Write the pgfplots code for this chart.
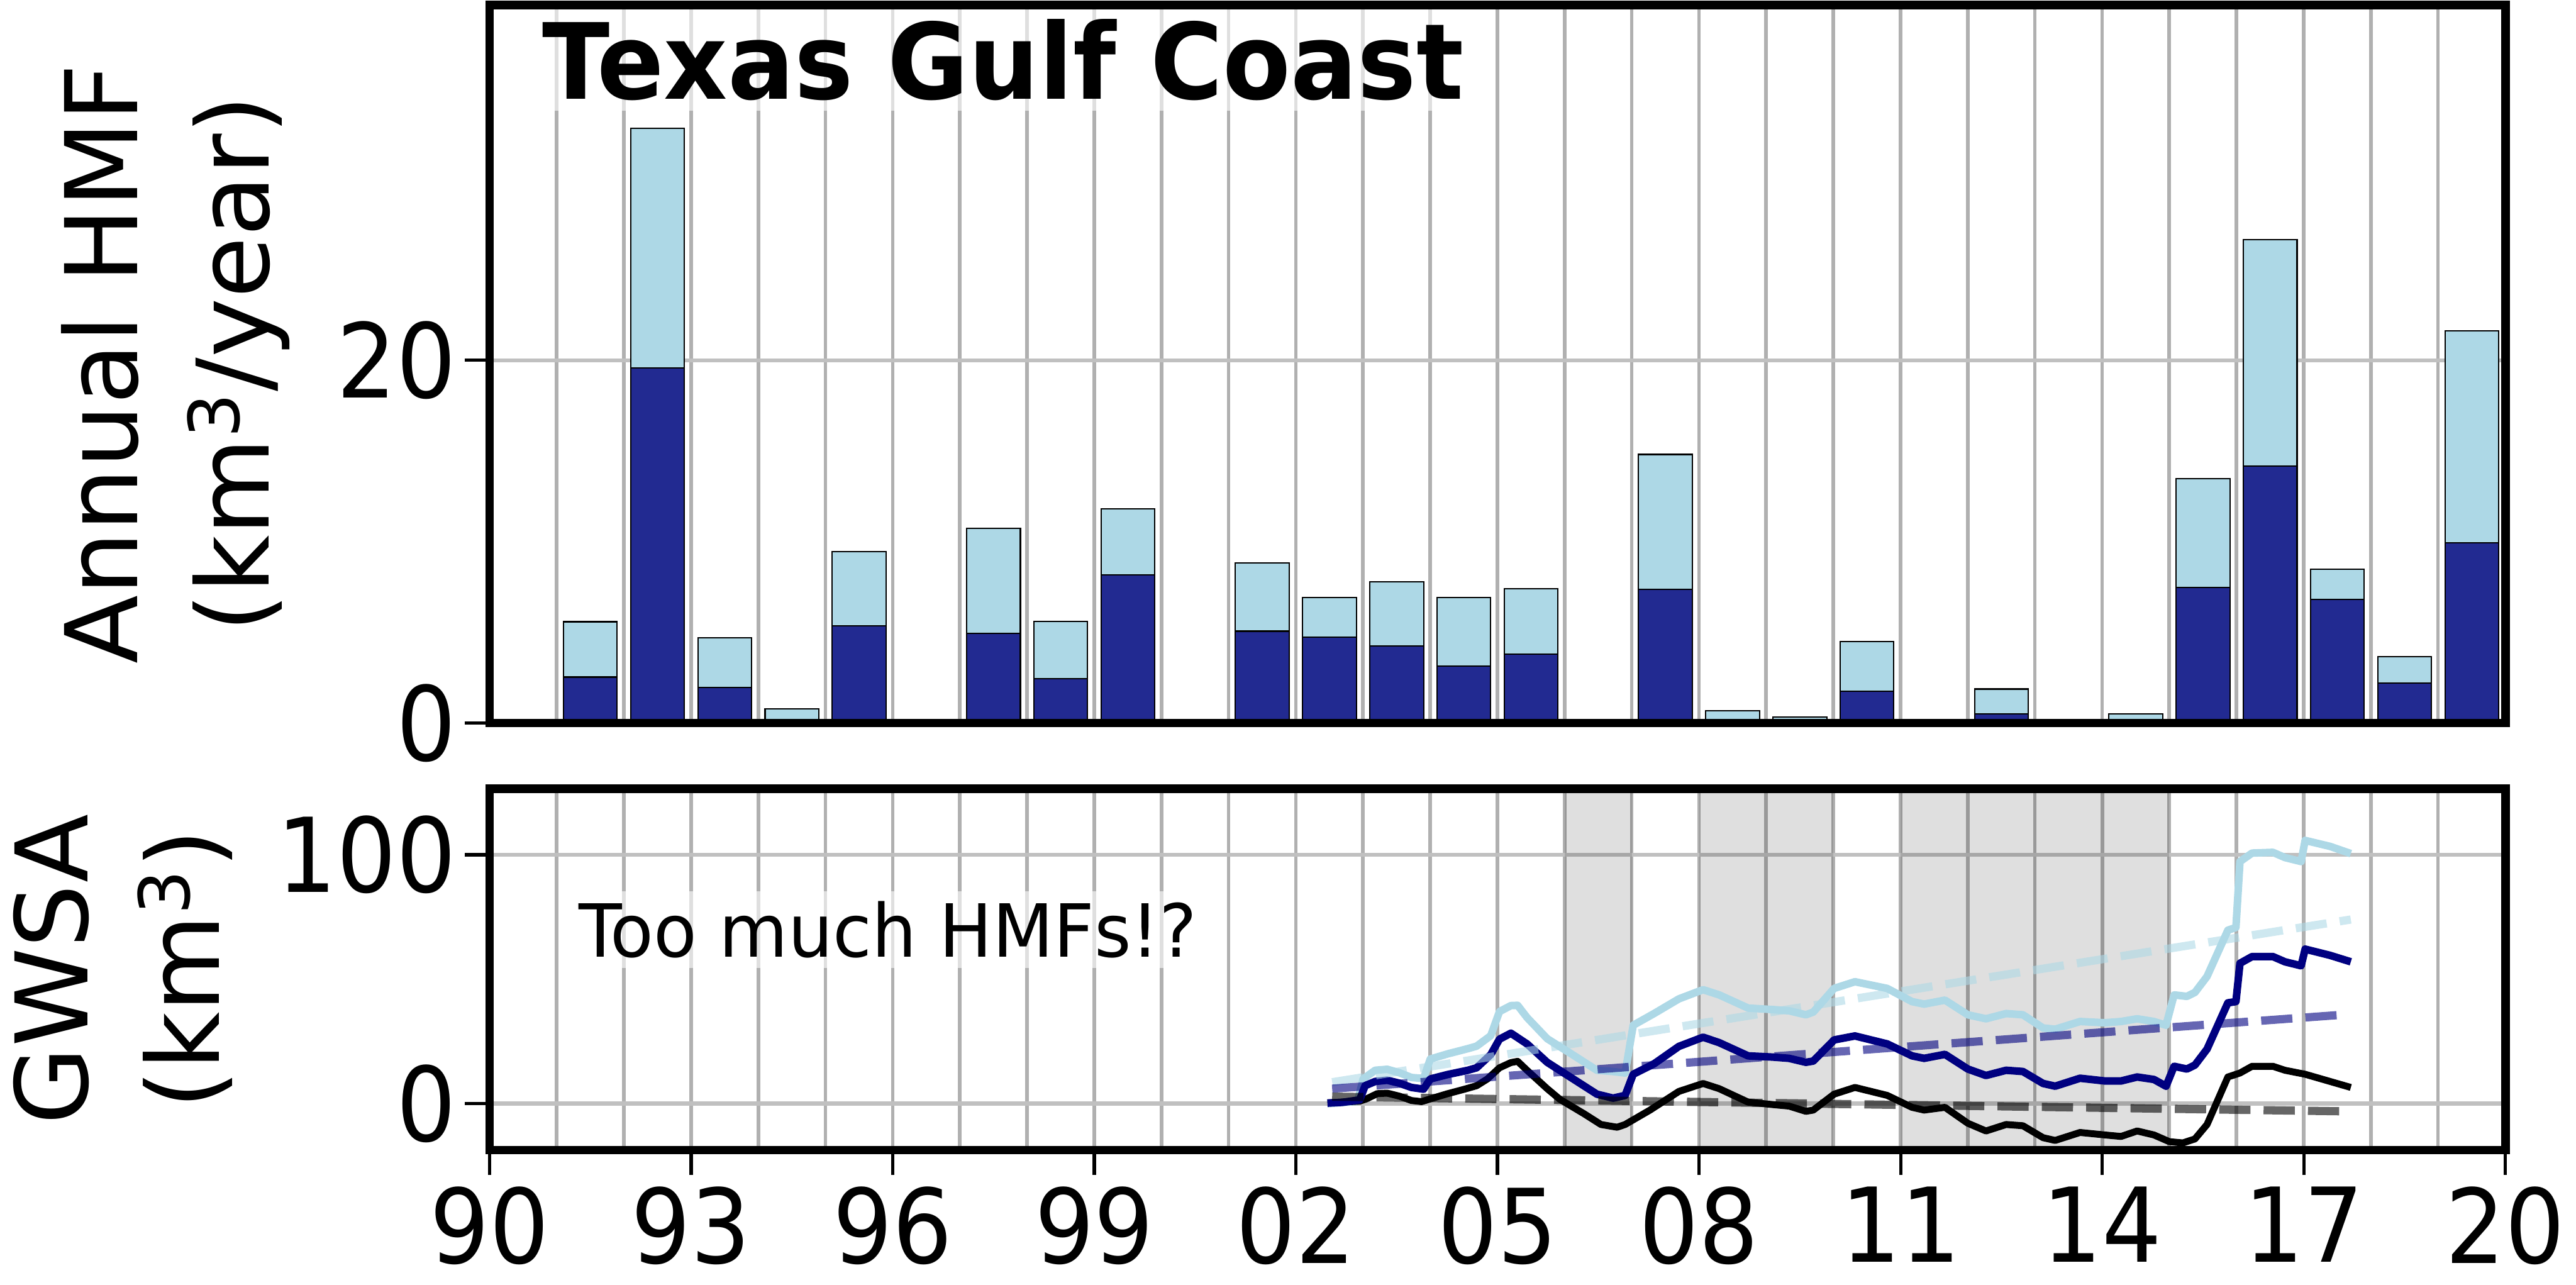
\documentclass[border=0pt]{standalone}
\usepackage{pgfplots}
\pgfplotsset{compat=1.18}
\usepackage{fontspec}
\setmainfont{DejaVu Sans}
\newfontfamily\lblfont{DejaVu Sans}
\newfontfamily\tickfont{DejaVu Sans}[FakeStretch=0.91]
\newfontfamily\titlefont{DejaVu Sans}[FakeStretch=0.94]
\newfontfamily\notefont{DejaVu Sans}[FakeStretch=0.966]
\definecolor{lblue}{RGB}{173,216,230}
\definecolor{dbar}{RGB}{34,42,145}
\definecolor{navyc}{RGB}{0,0,128}
\definecolor{gridv}{RGB}{176,176,176}
\definecolor{gridh}{RGB}{192,192,192}

\pgfplotsset{
 common/.style={
  scale only axis, width=613.5pt, xmin=1990, xmax=2020,
  axis line style={line width=2.6pt},
  tick align=outside, tick pos=left,
  major tick length=7.5pt,
  tick style={black, line width=1pt},
  major x grid style={gridv, line width=1.1pt},
  minor x grid style={gridv, line width=1.1pt},
  major y grid style={gridh, line width=1.2pt},
  tick label style={font=\tickfont\fontsize{31.4}{31.4}\selectfont},
  xticklabel style={inner sep=3.5pt},
  yticklabel style={inner sep=2.5pt},
  /pgf/number format/assume math mode=true,
  ylabel style={anchor=center, align=center, font=\lblfont\fontsize{30.5}{40}\selectfont, inner sep=0pt},
 }
}

\begin{document}
\begin{tikzpicture}
\useasboundingbox (-149pt,-41pt) rectangle (635pt,350pt);

% ---------------- top panel: annual HMF bars ----------------
\begin{axis}[common, name=top, at={(0,130pt)}, anchor=south west, height=218.5pt,
  ymin=0, ymax=39.6,
  xtick={1990,...,2020}, xticklabels={}, xtick style={draw=none}, xmajorgrids,
  ytick={0,20}, ymajorgrids,
  ylabel={Annual HMF\\(km\textsuperscript{3}/year)},
  ylabel style={at={(axis description cs:-0.1558,0.5)}}]
\addplot[ybar, bar width=0.8, bar shift=0pt, fill=lblue, draw=black, line width=0.4pt] coordinates {
 (1991.5,5.58) (1992.5,32.8) (1993.5,4.71) (1994.5,0.77) (1995.5,9.46)
 (1997.5,10.72) (1998.5,5.60) (1999.5,11.82)
 (2001.5,8.82) (2002.5,6.93) (2003.5,7.77) (2004.5,6.91) (2005.5,7.39)
 (2007.5,14.81) (2008.5,0.66) (2009.5,0.33) (2010.5,4.50)
 (2012.5,1.87) (2014.5,0.51)
 (2015.5,13.48) (2016.5,26.65) (2017.5,8.49) (2018.5,3.66) (2019.5,21.61)};
\addplot[ybar, bar width=0.8, bar shift=0pt, fill=dbar, draw=black, line width=0.4pt] coordinates {
 (1991.5,2.53) (1992.5,19.57) (1993.5,1.97) (1995.5,5.35)
 (1997.5,4.94) (1998.5,2.43) (1999.5,8.16)
 (2001.5,5.06) (2002.5,4.73) (2003.5,4.25) (2004.5,3.12) (2005.5,3.81)
 (2007.5,7.37) (2008.5,0.2) (2010.5,1.76)
 (2012.5,0.51)
 (2015.5,7.47) (2016.5,14.17) (2017.5,6.80) (2018.5,2.20) (2019.5,9.92)};
\node[anchor=base west, font=\titlefont\fontsize{32}{32}\selectfont\bfseries, fill=white, fill opacity=0.6, text opacity=1, inner sep=3pt, xshift=-3pt]
  at (axis cs:1990.78,34.4) {Texas Gulf Coast};
\end{axis}

% ---------------- bottom panel: GWSA ----------------
\begin{axis}[common, name=bot, at={(0,0)}, anchor=south west, height=110pt,
  ymin=-18.7, ymax=126.6,
  xtick={1990,1993,...,2020}, xticklabels={90,93,96,99,02,05,08,11,14,17,20},
  minor xtick={1990,...,2020}, minor tick length=0pt,
  xmajorgrids, xminorgrids,
  ytick={0,100}, ymajorgrids,
  ylabel={GWSA\\(km\textsuperscript{3})},
  ylabel style={at={(axis description cs:-0.1819,0.5)}}]
\fill[black, fill opacity=0.125] (axis cs:2006,-18.7) rectangle (axis cs:2007,126.6);
\fill[black, fill opacity=0.125] (axis cs:2008,-18.7) rectangle (axis cs:2010,126.6);
\fill[black, fill opacity=0.125] (axis cs:2011,-18.7) rectangle (axis cs:2015,126.6);
\node[anchor=base west, font=\notefont\fontsize{22.3}{22.3}\selectfont, fill=white, fill opacity=0.6, text opacity=1, inner sep=3pt, xshift=-3pt]
  at (axis cs:1991.32,58.9) {Too much HMFs!?};
% light blue
\addplot[lblue, line width=2.3pt, line join=round] coordinates {
 (2002.47,0) (2002.92,0.9) (2003.0,9.9) (2003.18,13.4) (2003.36,13.8) (2003.54,12.4) (2003.72,10.5) (2003.9,10.1)
 (2004.0,17.9) (2004.26,20) (2004.56,22.1) (2004.69,23.1) (2004.9,27.3) (2005.03,37) (2005.2,39.4) (2005.3,39.5)
 (2005.44,34.6) (2005.74,26.1) (2006.11,19.8) (2006.48,13.4) (2006.72,12.9) (2006.9,12.3) (2007.02,31.5) (2007.33,36.2)
 (2007.7,42.1) (2008.06,45.8) (2008.3,43.7) (2008.73,38.4) (2009.1,37.8) (2009.34,37.3) (2009.59,35.7) (2009.7,36.8)
 (2010.01,46.3) (2010.32,49) (2010.8,46.3) (2011.17,41) (2011.35,40) (2011.66,41.6) (2012.0,35.7) (2012.27,34.1)
 (2012.57,36.2) (2012.82,35.7) (2013.12,30.4) (2013.3,29.9) (2013.67,33) (2014.04,32.5) (2014.28,33) (2014.52,34.1)
 (2014.77,33) (2014.95,31.5) (2015.07,43.7) (2015.26,43.1) (2015.38,44.7) (2015.56,51.1) (2015.87,69.7) (2015.99,70.8)
 (2016.05,97.3) (2016.23,100.7) (2016.54,101) (2016.72,98.9) (2016.96,97.3) (2017.02,105.8) (2017.39,103.4) (2017.7,100.5)};
% black
\addplot[black, line width=2.1pt, line join=round] coordinates {
 (2002.47,0.3) (2002.95,1) (2003.05,1.9) (2003.21,4) (2003.36,4.2) (2003.54,3) (2003.72,1.25) (2003.87,0.8)
 (2004.05,2.3) (2004.26,4) (2004.51,5.8) (2004.69,7.2) (2004.85,9.9) (2005.03,14.4) (2005.2,16.5) (2005.3,17)
 (2005.44,13.4) (2005.74,6) (2005.93,1.7) (2006.29,-4.1) (2006.54,-8.4) (2006.78,-9.5) (2006.9,-8.4) (2007.27,-2.6)
 (2007.7,4.9) (2008.06,8.1) (2008.3,6) (2008.73,0.6) (2009.1,-0.4) (2009.34,-1) (2009.59,-3.1) (2009.7,-2.6)
 (2010.01,3.8) (2010.32,6.5) (2010.8,3.3) (2011.17,-1.5) (2011.35,-2.6) (2011.66,-1.5) (2012.0,-7.9) (2012.27,-11)
 (2012.57,-8.4) (2012.82,-8.9) (2013.12,-13.7) (2013.3,-14.8) (2013.67,-11.6) (2014.04,-12.6) (2014.28,-13.2) (2014.52,-11)
 (2014.77,-12.6) (2015.0,-15.3) (2015.2,-15.8) (2015.38,-14.2) (2015.56,-8.4) (2015.87,10.7) (2016.05,12.3) (2016.23,15)
 (2016.54,15) (2016.72,13.4) (2017.02,11.8) (2017.7,6.5)};
% navy
\addplot[navyc, line width=2.3pt, line join=round] coordinates {
 (2002.47,0.2) (2002.69,0.5) (2002.95,1.5) (2003.03,7.2) (2003.18,8.9) (2003.36,9.4) (2003.54,8.2) (2003.72,6.5) (2003.9,5.8)
 (2004.0,9.9) (2004.26,11.7) (2004.56,13.4) (2004.69,14.4) (2004.9,19.7) (2005.03,25.9) (2005.2,28.3) (2005.44,24)
 (2005.74,16.6) (2006.11,10.2) (2006.48,3.8) (2006.72,2.2) (2006.9,3.3) (2007.02,11.8) (2007.33,16) (2007.7,23)
 (2008.06,26.7) (2008.3,24.5) (2008.73,19.2) (2009.1,18.7) (2009.34,18.2) (2009.59,16.6) (2009.7,17.1) (2010.01,25.6)
 (2010.32,27.2) (2010.8,24) (2011.17,19.2) (2011.35,18.2) (2011.66,19.8) (2012.0,13.9) (2012.27,11.3) (2012.57,13.4)
 (2012.82,12.9) (2013.12,8.1) (2013.3,7) (2013.67,10.2) (2014.04,9.1) (2014.28,9.1) (2014.52,10.7) (2014.77,9.7)
 (2014.95,7) (2015.07,15) (2015.26,13.9) (2015.38,15.5) (2015.56,21.9) (2015.87,40.5) (2015.99,41) (2016.05,56.4)
 (2016.23,59.1) (2016.54,59.1) (2016.72,57) (2016.96,55.4) (2017.02,62.1) (2017.39,59.6) (2017.7,57)};
% trends
\addplot[lblue, opacity=0.6, line width=2.5pt, dash pattern=on 9.5pt off 4pt] coordinates {(2002.54,8.6) (2017.7,74)};
\addplot[navyc, opacity=0.6, line width=2.5pt, dash pattern=on 9.5pt off 4pt] coordinates {(2002.54,6) (2017.57,35.7)};
\addplot[black, opacity=0.6, line width=2.5pt, dash pattern=on 9.5pt off 4pt] coordinates {(2002.54,2.8) (2017.6,-3.1)};
\end{axis}

\draw[line width=2.6pt] (top.south west) rectangle (top.north east);
\draw[line width=2.6pt] (bot.south west) rectangle (bot.north east);
\end{tikzpicture}
\end{document}
